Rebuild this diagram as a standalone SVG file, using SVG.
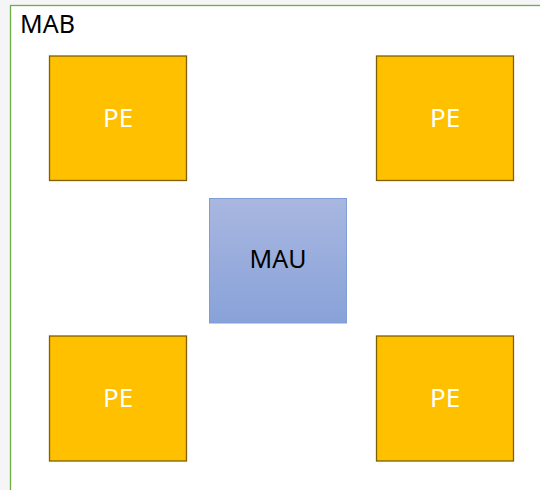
<svg xmlns="http://www.w3.org/2000/svg" width="540" height="490" viewBox="0 0 540 490">
<defs>
<linearGradient id="mauGrad" x1="0" y1="0" x2="0" y2="1">
<stop offset="0" stop-color="#a9b7e0"/>
<stop offset="1" stop-color="#88a2d9"/>
</linearGradient>
</defs>
<style>
.pe{fill:#ffc000;stroke:#7f6000;stroke-width:1.3}
.pet{font-family:"Noto Sans","Open Sans",sans-serif;font-size:26px;fill:#ffffff;text-anchor:middle}
.lbl{font-family:"Noto Sans","Open Sans",sans-serif;font-size:25px;fill:#000000}
</style>
<rect x="0" y="0" width="540" height="490" fill="#f5f5f7"/>
<g id="MAB">
<rect x="10.5" y="5.5" width="540" height="490" fill="#ffffff" stroke="#70ad47" stroke-width="1.3"/>
<text class="lbl" x="20" y="33">MAB</text>
</g>
<g id="PE1"><rect class="pe" x="49.5" y="56" width="137" height="124.5"/><text class="pet" x="118" y="127">PE</text></g>
<g id="PE2"><rect class="pe" x="376.5" y="56" width="137" height="124.5"/><text class="pet" x="445" y="127">PE</text></g>
<g id="PE3"><rect class="pe" x="49.5" y="336" width="137" height="125"/><text class="pet" x="118" y="407">PE</text></g>
<g id="PE4"><rect class="pe" x="376.5" y="336" width="137" height="125"/><text class="pet" x="445" y="407">PE</text></g>
<g id="MAU"><rect x="209.5" y="198.5" width="137" height="124.5" fill="url(#mauGrad)" stroke="#7f9ed6" stroke-width="1"/><text class="lbl" x="278" y="268" text-anchor="middle">MAU</text></g>
<g id="connectors"></g>
</svg>
